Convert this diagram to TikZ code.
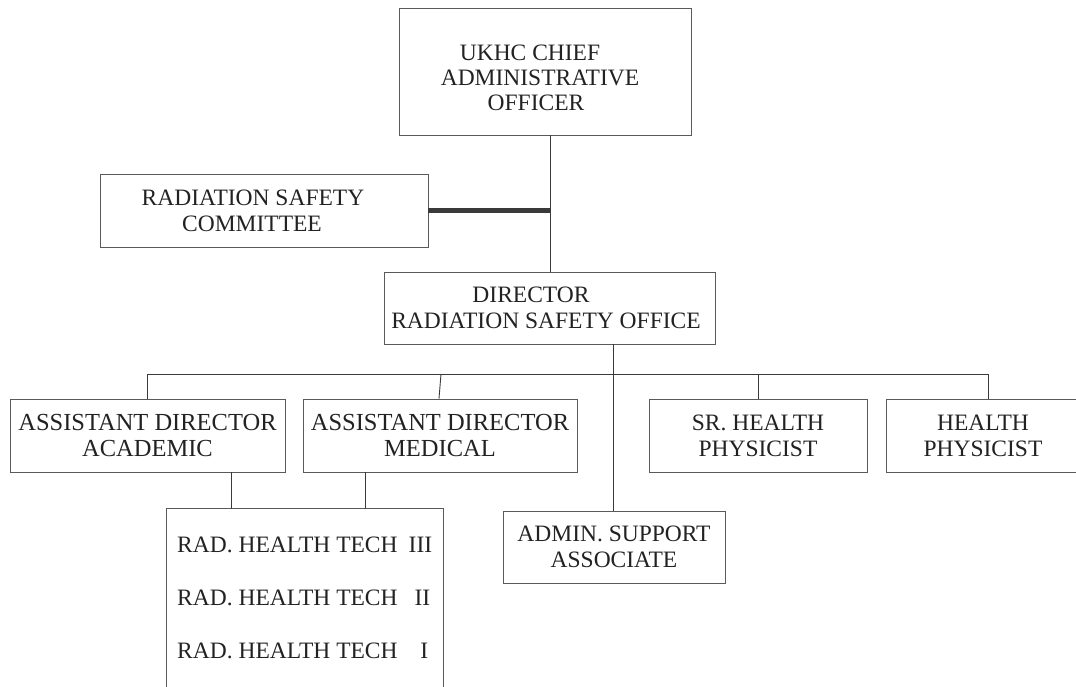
\documentclass[tikz,border=0pt]{standalone}
\usepackage{fontspec}
\setmainfont{Liberation Serif}
\definecolor{bordergray}{HTML}{5A5A5A}
\definecolor{linegray}{HTML}{3A3A3A}
\definecolor{textgray}{HTML}{222222}
\begin{document}
\begin{tikzpicture}[x=1pt,y=-1pt,
  box/.style={draw=bordergray, line width=0.9pt, inner sep=0pt, align=center,
    text=textgray, font=\fontsize{23.5}{26}\selectfont},
  bigbox/.style={box, font=\fontsize{24.5}{26}\selectfont},
  plaintext/.style={inner sep=0pt, align=center, text=textgray,
    font=\fontsize{23.5}{25}\selectfont},
  conn/.style={draw=linegray, line width=0.9pt},
  heavy/.style={draw=linegray, line width=4.5pt},
  techtext/.style={anchor=base west, inner sep=0pt, text=textgray,
    font=\fontsize{23.5}{26}\selectfont}]
\useasboundingbox (0,0) rectangle (1076,686);

% boxes
\node[box, minimum width=292pt, minimum height=127pt] (cao) at (545,71.5) {};
\node[plaintext] (caotext) at (540,77.5)
  {UKHC CHIEF\hspace*{20pt}\\ADMINISTRATIVE\\OFFICER\hspace*{8pt}};
\node[box, minimum width=328pt, minimum height=73pt] (com) at (264,210.5)
  {RADIATION SAFETY\hspace*{22pt}\\COMMITTEE\hspace*{24pt}};
\node[box, minimum width=331pt, minimum height=72pt] (dir) at (549.5,308)
  {DIRECTOR\hspace*{37pt}\\RADIATION SAFETY OFFICE\hspace*{7pt}};
\node[bigbox, minimum width=275pt, minimum height=73pt] (acad) at (147.5,435.5)
  {ASSISTANT DIRECTOR\\ACADEMIC};
\node[bigbox, minimum width=274pt, minimum height=73pt] (med) at (440,435.5)
  {ASSISTANT DIRECTOR\\MEDICAL};
\node[box, minimum width=218pt, minimum height=73pt] (srhp) at (758,435.5)
  {SR. HEALTH\\PHYSICIST};
\node[box, minimum width=194pt, minimum height=73pt] (hp) at (983,435.5)
  {HEALTH\\PHYSICIST};
\node[box, minimum width=222pt, minimum height=72pt] (admin) at (614,547)
  {ADMIN. SUPPORT\\ASSOCIATE};

% open-bottom staff box
\node[inner sep=0pt, minimum width=276pt, minimum height=191pt] (tech) at (305,604.5) {};
\draw[draw=bordergray, line width=0.9pt]
  (tech.south west) -- (tech.north west) -- (tech.north east) -- (tech.south east);
\node[techtext] (t3) at (177,552) {\makebox[236pt][l]{RAD. HEALTH TECH}\makebox[19pt][r]{III}};
\node[techtext] (t2) at (177,605) {\makebox[236pt][l]{RAD. HEALTH TECH}\makebox[17pt][r]{II}};
\node[techtext] (t1) at (177,658) {\makebox[236pt][l]{RAD. HEALTH TECH}\makebox[15pt][r]{I}};

% connectors
\coordinate (spine) at (550,0);
\coordinate (dspine) at (613,0);
\coordinate (busL) at (147,374);
\coordinate (busR) at (988,374);
\coordinate (tA) at (231,0);
\coordinate (tM) at (365,0);

\draw[conn] (cao.south -| spine) -- (dir.north -| spine);
\draw[heavy] (com.east) -- (com.east -| spine);
\draw[conn] (dir.south -| dspine) -- (admin.north -| dspine);
\draw[conn] (busL) -- (busR);
\draw[conn] (busL) -- (acad.north -| busL);
\draw[conn] ([xshift=1pt]med.north |- busL) -- ([xshift=-1pt]med.north);
\draw[conn] (srhp.north |- busL) -- (srhp.north);
\draw[conn] (busR) -- (hp.north -| busR);
\draw[conn] (acad.south -| tA) -- (tech.north -| tA);
\draw[conn] (med.south -| tM) -- (tech.north -| tM);
\end{tikzpicture}
\end{document}
